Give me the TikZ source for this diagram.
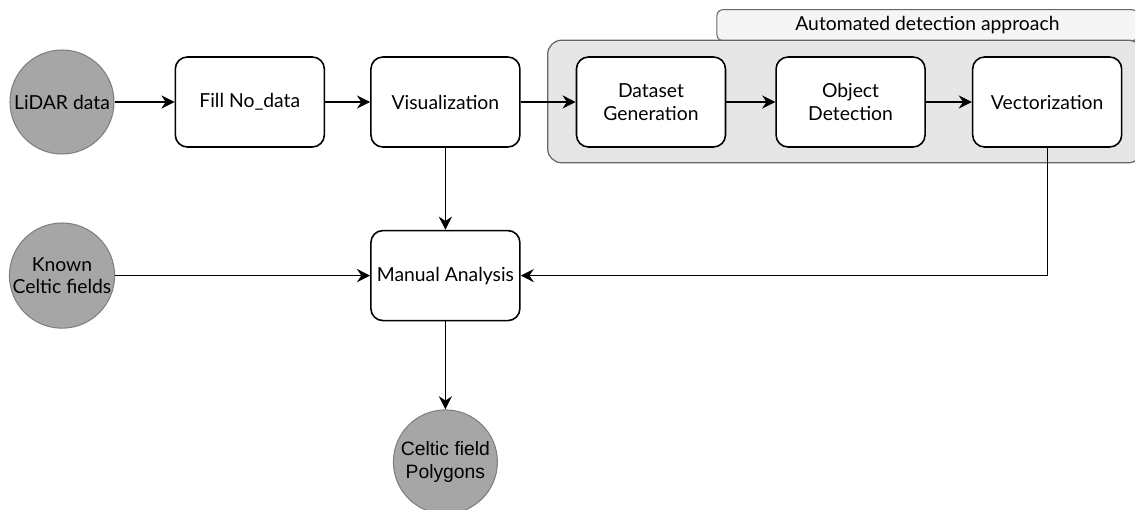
\documentclass[tikz,border=0pt]{standalone}
\usepackage{fontspec}
\setmainfont{Lato}
\newfontfamily\arialfont{Liberation Sans}
\usetikzlibrary{positioning}
\usetikzlibrary{arrows.meta}
\usetikzlibrary{backgrounds}

\definecolor{circfill}{HTML}{A6A6A6}
\definecolor{circdraw}{HTML}{7F7F7F}
\definecolor{grpfill}{HTML}{E6E6E6}
\definecolor{grpdraw}{HTML}{666666}
\definecolor{tabfill}{HTML}{F5F5F5}

\begin{document}
\begin{tikzpicture}[
font=\fontsize{11}{13}\selectfont,
datanode/.style={circle, draw=circdraw, fill=circfill, line width=0.6pt, minimum size=2.08cm, inner sep=0pt, align=center},
stepnode/.style={rectangle, rounded corners=0.24cm, draw=black, fill=white, line width=0.9pt, minimum width=2.98cm, minimum height=1.8cm, align=center},
arr/.style={-{Stealth[length=7.5pt,width=7.5pt,inset=2.5pt]}, line width=0.75pt},
]
\useasboundingbox (0,0) rectangle (22.7,-10.2);

%Nodes
\node[datanode]   (lidar)   at (1.24,-2.04)          {LiDAR data};
\node[stepnode]   (fill)    [right=1.2cm of lidar]   {Fill No\_data};
\node[stepnode]   (vis)     [right=0.9cm of fill]    {Visualization};
\node[stepnode]   (ds)      [right=1.1cm of vis]     {Dataset\\Generation};
\node[stepnode]   (od)      [right=0.98cm of ds]     {Object\\Detection};
\node[stepnode]   (vec)     [right=0.92cm of od]     {Vectorization};
\node[stepnode]   (man)     [below=1.64cm of vis]    {Manual Analysis};
\node[datanode]   (known)   at (lidar |- man)        {Known\\Celtic fields};
\node[datanode, font=\arialfont\fontsize{11}{13}\selectfont] (poly) [below=1.76cm of man] {Celtic field\\Polygons};

%Group
\coordinate (grpnw) at ([xshift=-0.56cm,yshift=0.32cm]ds.north west);
\coordinate (grpse) at ([xshift=0.4cm,yshift=-0.3cm]vec.south east);
\coordinate (grpne) at (grpse |- grpnw);
\begin{scope}[on background layer]
\node[rectangle, rounded corners=0.12cm, draw=grpdraw, fill=tabfill, line width=0.6pt, minimum width=8.42cm, minimum height=0.62cm, anchor=south east]
  (tab) at ([xshift=-0.08cm,yshift=-0.02cm]grpne) {Automated detection approach};
\path[draw=grpdraw, fill=grpfill, rounded corners=0.28cm, line width=0.7pt] (grpnw) rectangle (grpse);
\end{scope}

%Lines
\draw[arr] (lidar.east) -- (fill.west);
\draw[arr] (fill.east) -- (vis.west);
\draw[arr] (vis.east) -- (ds.west);
\draw[arr] (ds.east) -- (od.west);
\draw[arr] (od.east) -- (vec.west);
\draw[arr] (vis.south) -- (man.north);
\draw[arr] (known.east) -- (man.west);
\draw[arr] (vec.south) |- (man.east);
\draw[arr] (man.south) -- (poly.north);
\end{tikzpicture}
\end{document}
